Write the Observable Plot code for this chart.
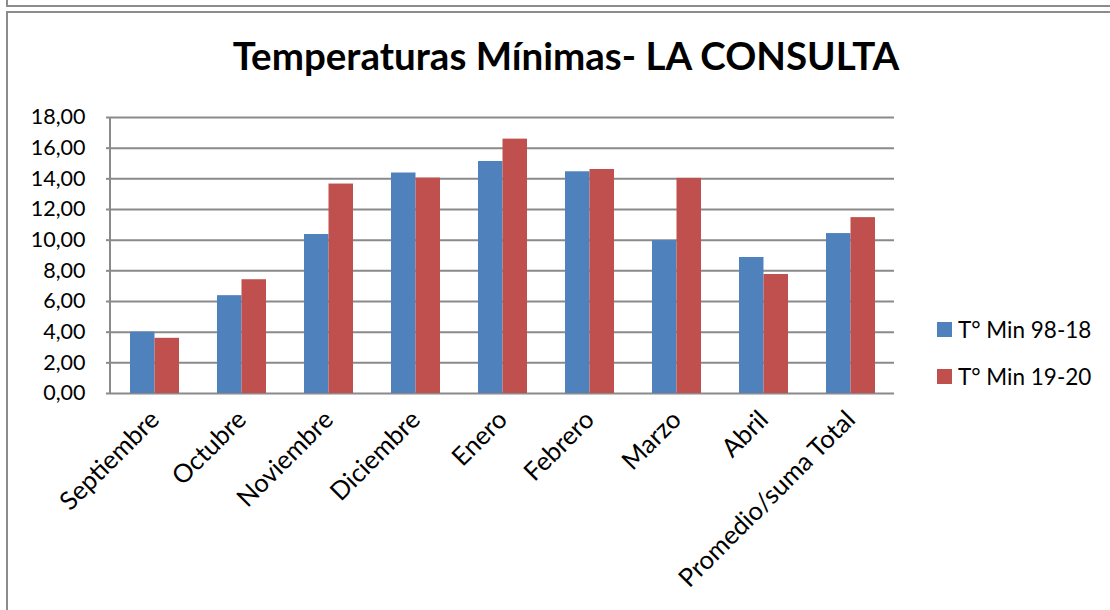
<!DOCTYPE html>
<html><head><meta charset="utf-8">
<script src="https://cdn.jsdelivr.net/npm/d3@7"></script>
<script src="https://cdn.jsdelivr.net/npm/@observablehq/plot@0.6"></script>
<style>
body{margin:0;background:#fff;}
#wrap{position:relative;width:1110px;height:610px;overflow:hidden;font-family:Lato,"Open Sans",sans-serif;background:#fff;}
.box1{position:absolute;left:6px;top:-20px;width:1200px;height:25px;border-left:2px solid #8c8c8c;border-bottom:2px solid #8c8c8c;}
.box2{position:absolute;left:6px;top:11px;width:1200px;height:700px;border-left:2px solid #8c8c8c;border-top:2px solid #8c8c8c;}
#chart{position:absolute;left:0;top:0;}
#title{position:absolute;left:0;top:32px;width:1132px;text-align:center;font-weight:bold;font-size:38.5px;line-height:46px;color:#000;white-space:nowrap;}
#legend{position:absolute;left:937px;top:316px;font-size:22.5px;color:#000;}
.li{display:flex;align-items:center;height:27px;margin-bottom:20px;white-space:nowrap;}
.sw{width:15px;height:15px;margin-right:6px;}
</style></head><body>
<div id="wrap">
  <div class="box1"></div>
  <div class="box2"></div>
  <div id="chart"></div>
  <div id="title">Temperaturas Mínimas- LA CONSULTA</div>
  <div id="legend"></div>
</div>
<script>
const months = ["Septiembre","Octubre","Noviembre","Diciembre","Enero","Febrero","Marzo","Abril","Promedio/suma Total"];
const seriesNames = ["T° Min 98-18","T° Min 19-20"];
const min9818 = [4.00,6.38,10.37,14.38,15.13,14.46,9.97,8.87,10.43];
const min1920 = [3.60,7.42,13.66,14.05,16.59,14.61,14.03,7.76,11.47];
const yTicks = [0,2,4,6,8,10,12,14,16,18];
const colors = ["#4F81BD","#C0504D"];

const rows1 = months.map((m,i)=>({month:m, series:seriesNames[0], value:min9818[i]}));
const rows2 = months.map((m,i)=>({month:m, series:seriesNames[1], value:min1920[i]}));

const grid = "#8a8a8a";
const halfBar = 24.5;

const axisLine = (index, scales, values, dims) => {
  const g = d3.create("svg:g");
  g.append("line")
    .attr("x1", dims.marginLeft).attr("x2", dims.marginLeft)
    .attr("y1", dims.marginTop).attr("y2", dims.height - dims.marginBottom)
    .attr("stroke", grid).attr("stroke-width", 2);
  return g.node();
};

const chart = Plot.plot({
  width: 1110, height: 610,
  marginLeft: 110, marginRight: 216, marginTop: 117, marginBottom: 217,
  style: {fontFamily: "Lato, 'Open Sans', sans-serif", fontSize: "20px", color: "#000", background: "transparent", overflow: "visible"},
  x: {domain: months, paddingInner: 0.437, paddingOuter: 0.2185, label: null},
  y: {domain: [0, 18], label: null},
  color: {domain: seriesNames, range: colors},
  marks: [
    Plot.gridY(yTicks, {stroke: grid, strokeOpacity: 1, strokeWidth: 2}),
    Plot.barY(rows1, {x: "month", y: "value", fill: "series", insetRight: halfBar, insetLeft: 0}),
    Plot.barY(rows2, {x: "month", y: "value", fill: "series", insetLeft: halfBar, insetRight: 0}),
    Plot.axisY(yTicks, {tickSize: 4, tickPadding: 21, stroke: grid, strokeWidth: 2, fontSize: 21.5, label: null,
      tickFormat: d => d.toFixed(2).replace(".", ",")}),
    Plot.axisX({tickSize: 0, tickRotate: -45, tickPadding: 22, fontSize: 25.5, label: null}),
    axisLine
  ]
});
document.getElementById("chart").appendChild(chart);

const legend = document.getElementById("legend");
seriesNames.forEach((s,i)=>{
  const d = document.createElement("div"); d.className = "li";
  const sw = document.createElement("div"); sw.className = "sw"; sw.style.background = colors[i];
  const t = document.createElement("span"); t.textContent = s;
  d.appendChild(sw); d.appendChild(t); legend.appendChild(d);
});
</script>
</body></html>
